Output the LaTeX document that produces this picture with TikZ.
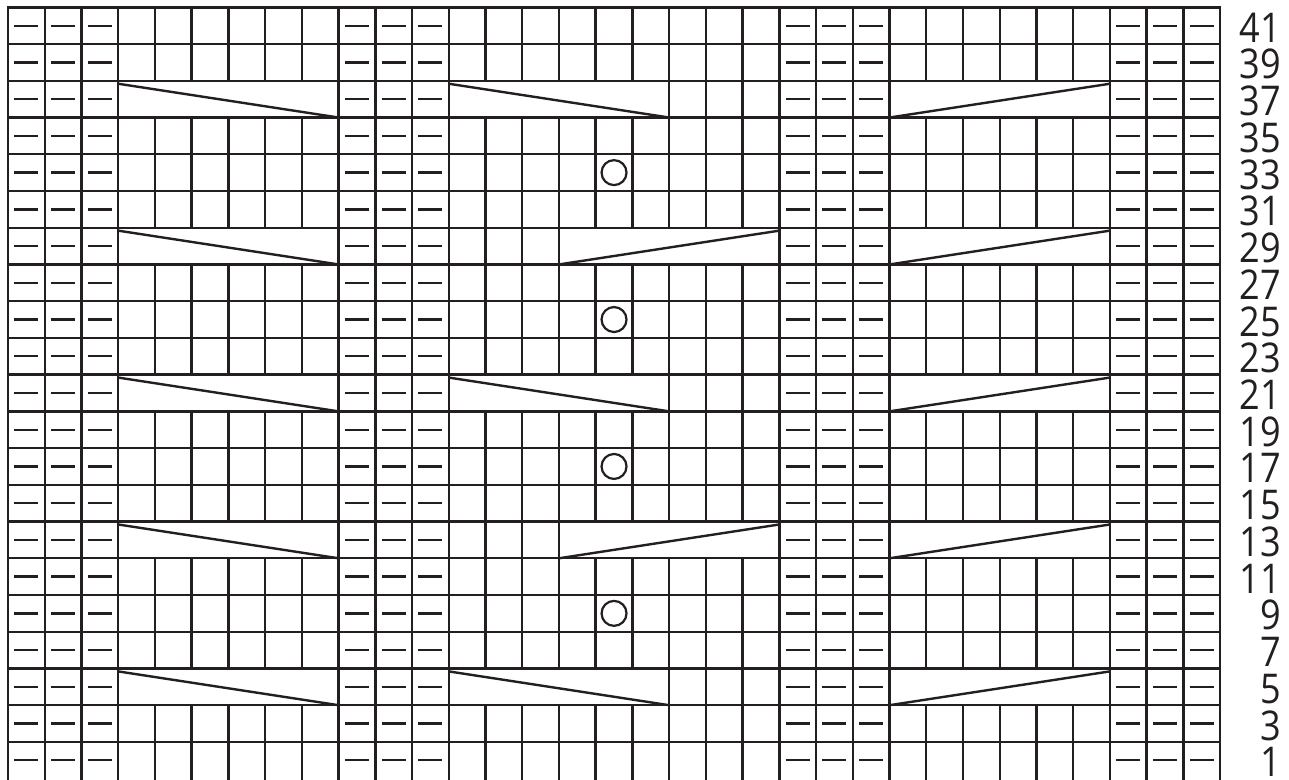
\documentclass[tikz,border=0pt]{standalone}
\usepackage{fontspec}
\setmainfont{Open Sans}
\newfontfamily\numfont[FakeStretch=0.88]{Open Sans}
\definecolor{Ink}{HTML}{231F20}
\tikzset{
 gridline/.style={draw=Ink,line width=2.4pt,line cap=rect},
 purl/.style={draw=Ink,line width=2.4pt},
 cable/.style={draw=Ink,line width=2.4pt},
 yo/.style={draw=Ink,line width=2.2pt},
 rowno/.style={anchor=east,inner sep=0pt,text=Ink,font=\numfont\fontsize{41}{41}\selectfont}
}

\begin{document}
\begin{tikzpicture}[x=36.73pt,y=36.73pt]
\useasboundingbox (-0.218,-0.035) rectangle (34.877,21.2);
% row lines
\foreach \r in {1,...,21} \draw[gridline] (0,\r) -- (33,\r);
% column lines that run through every row
\foreach \x in {0,1,2,3,9,10,11,12,21,22,23,24,30,31,32,33}
 \draw[gridline] (\x,0) -- (\x,21);
% column lines broken by every cable row
\foreach \x in {4,5,6,7,8,16,17,25,26,27,28,29}
 \foreach \a/\b in {0/2,3/6,7/10,11/14,15/18,19/21}
  \draw[gridline] (\x,\a) -- (\x,\b);
% centre panel, left crossings
\foreach \x in {13,14,15}
 \foreach \a/\b in {0/2,3/10,11/18,19/21}
  \draw[gridline] (\x,\a) -- (\x,\b);
% centre panel, right crossings
\foreach \x in {18,19,20}
 \foreach \a/\b in {0/6,7/14,15/21}
  \draw[gridline] (\x,\a) -- (\x,\b);
% purl stitches
\foreach \c in {0,1,2,9,10,11,21,22,23,30,31,32}
 \foreach \r in {0,...,20}
  \draw[purl] (\c+0.175,\r+0.5) -- (\c+0.825,\r+0.5);
% cables
\foreach \r in {2,6,10,14,18} {
 \draw[cable] (3,\r+0.92) -- (9,\r);
 \draw[cable] (24,\r) -- (30,\r+0.92);
}
\foreach \r in {2,10,18} \draw[cable] (12,\r+0.92) -- (18,\r);
\foreach \r in {6,14} \draw[cable] (15,\r) -- (21,\r+0.92);
% yarn overs
\foreach \r in {4,8,12,16} \draw[yo] (16.5,\r+0.5) circle[radius=0.34];
% row numbers
\foreach \r [evaluate=\r as \n using int(2*\r+1)] in {0,...,20}
 \node[rowno] (row\n) at (34.66,\r+0.45) {\n};
\end{tikzpicture}
\end{document}
